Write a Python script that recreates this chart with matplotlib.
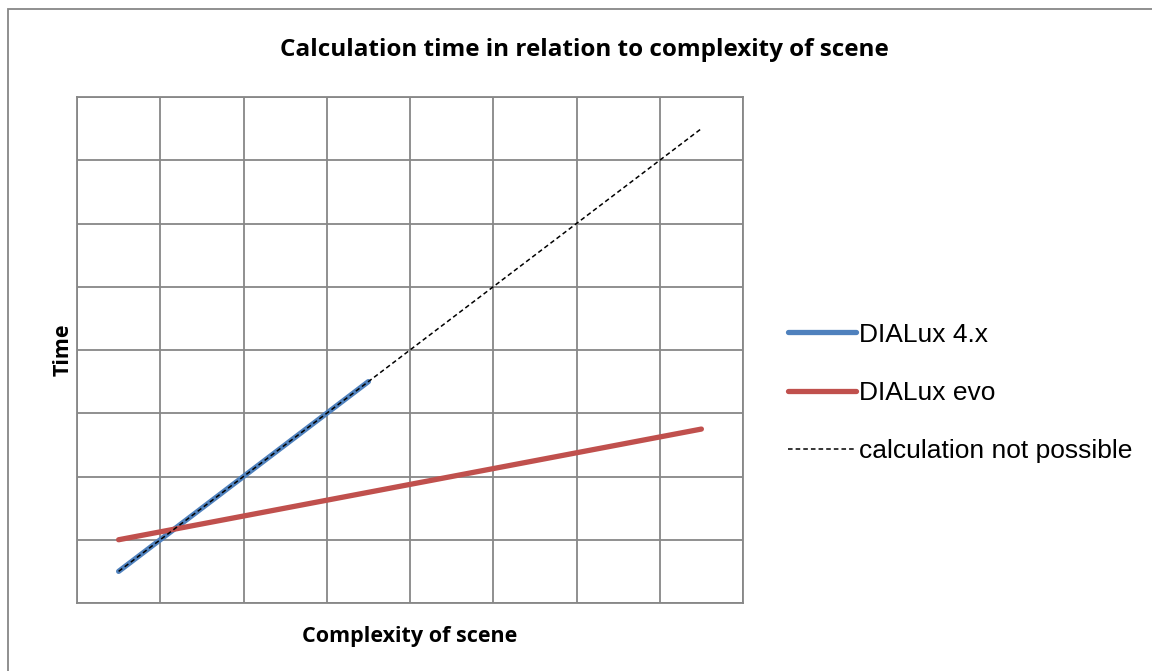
import numpy as np
import matplotlib
matplotlib.use("Agg")
import matplotlib.pyplot as plt
from matplotlib.lines import Line2D
from matplotlib.patches import Rectangle

# categories along complexity axis (8 slots, points in slot centres)
categories = np.arange(1, 9)
dialux4 = [0.5, 1.5, 2.5, 3.5]
dialux_evo = [1.0, 1.25, 1.5, 1.75, 2.0, 2.25, 2.5, 2.75]
not_possible = [0.5, 1.5, 2.5, 3.5, 4.5, 5.5, 6.5, 7.5]
labels = ["DIALux 4.x", "DIALux evo", "calculation not possible"]

blue = "#4F81BD"
red = "#C0504D"
grid_col = "#878787"

fig = plt.figure(figsize=(11.52, 6.71), dpi=100)
ax = fig.add_axes([77/1152, 1-603/671, (743-77)/1152, (603-97)/671])

x = categories - 0.5
ax.plot(x[:len(dialux4)], dialux4, color=blue, lw=3.8, solid_capstyle="round", zorder=3)
ax.plot(x, dialux_evo, color=red, lw=3.8, solid_capstyle="round", zorder=3)
ax.plot(x, not_possible, color="black", lw=1.1, ls=(0, (3, 2)), zorder=4)

ax.set_xlim(0, 8)
ax.set_ylim(0, 8)
ax.set_xticks(np.arange(0, 9))
ax.set_yticks(np.arange(0, 9))
ax.grid(True, color=grid_col, lw=1.3)
ax.tick_params(length=0, labelbottom=False, labelleft=False)
for s in ax.spines.values():
    s.set_color(grid_col)
    s.set_linewidth(1.3)

bold = dict(family="Open Sans", fontweight="bold")
fig.text(584/1152, 1-50/671, "Calculation time in relation to complexity of scene",
         ha="center", va="center", fontsize=17.5, **bold)
ax.set_xlabel("Complexity of scene", fontsize=15.5, labelpad=16.5, **bold)
ax.set_ylabel("Time", fontsize=15.5, labelpad=2.5, **bold)

handles = [Line2D([], [], color=blue, lw=3.8, solid_capstyle="round"),
           Line2D([], [], color=red, lw=3.8, solid_capstyle="round"),
           Line2D([], [], color="black", lw=1.1, ls=(0, (3, 2)))]
fig.legend(handles, labels, loc="center left", bbox_to_anchor=(764/1152, 1-393/671),
           frameon=False, prop={"family": "Liberation Sans", "size": 19},
           handlelength=2.6, handletextpad=0.1, labelspacing=1.3)

fig.patches.append(Rectangle((8/1152, -0.1), 1.2, 1.1 - 9/671, transform=fig.transFigure,
                             fill=False, edgecolor=grid_col, lw=1.3))

fig.savefig("out.png", dpi=100)
